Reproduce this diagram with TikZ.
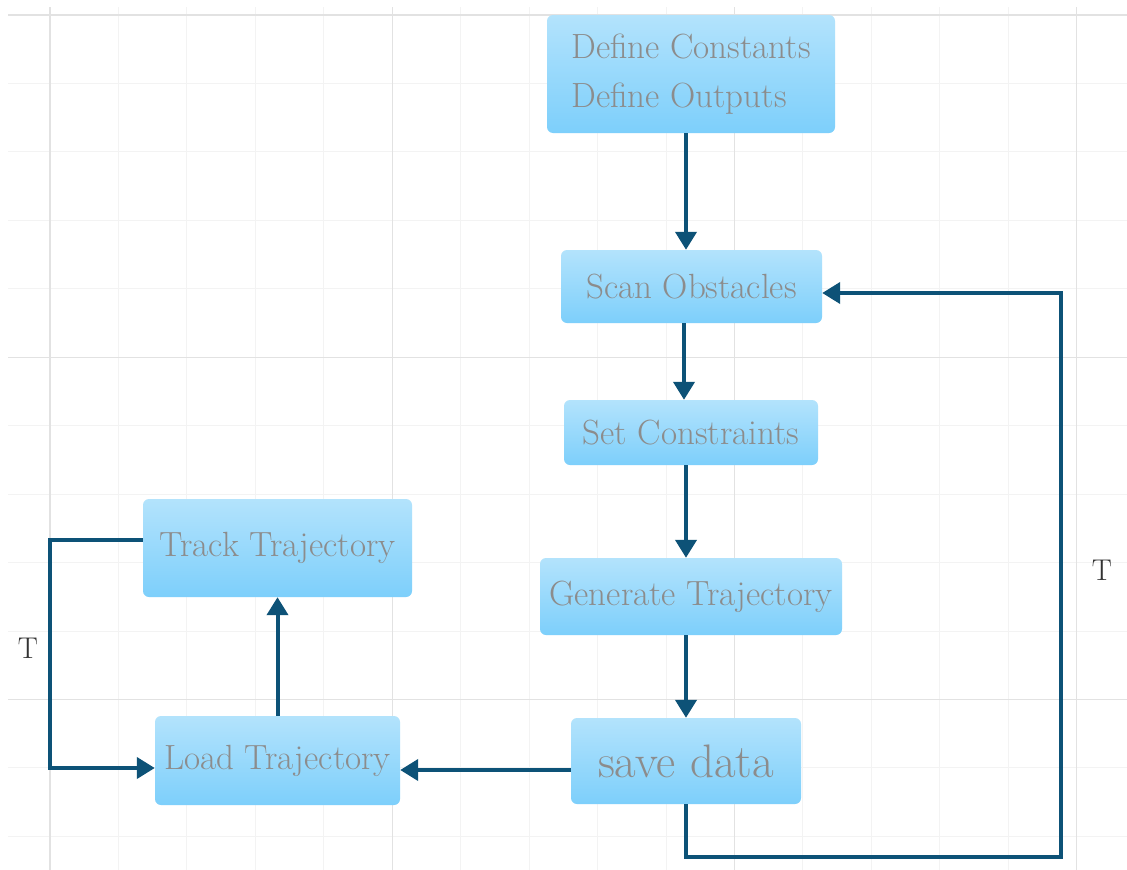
\documentclass[tikz,border=0pt]{standalone}
\usetikzlibrary{arrows.meta,calc}
\definecolor{boxtop}{HTML}{B3E3FC}
\definecolor{boxbot}{HTML}{7DCFFB}
\definecolor{linec}{HTML}{0D5277}
\definecolor{txtc}{HTML}{8C8C8C}
\definecolor{gridmin}{HTML}{F3F3F3}
\definecolor{gridmaj}{HTML}{E2E2E2}
\begin{document}
\begin{tikzpicture}[x=1pt,y=-1pt,
  box/.style={rectangle,rounded corners=6pt,top color=boxtop,bottom color=boxbot,draw=none,
    text=txtc,font=\fontsize{35}{40}\selectfont,inner sep=0pt},
  conn/.style={draw=linec,line width=4pt,-{Triangle[length=18pt,width=21pt]}},
  lbl/.style={text=black!80,font=\fontsize{30}{36}\selectfont}]
\useasboundingbox (0,0) rectangle (1127,870);
\fill[white] (0,0) rectangle (1127,870);
% grid
\foreach \i in {0,...,15}{
  \draw[gridmin,line width=1pt] ({50+68.45*\i},7) -- ({50+68.45*\i},870);}
\foreach \i in {0,...,12}{
  \draw[gridmin,line width=1pt] (8,{15+68.45*\i}) -- (1127,{15+68.45*\i});}
\foreach \i in {0,1,2,3}{
  \draw[gridmaj,line width=1pt] ({50+342.25*\i},7) -- ({50+342.25*\i},870);}
\foreach \i in {0,1,2}{
  \draw[gridmaj,line width=1pt] (8,{15+342.25*\i}) -- (1127,{15+342.25*\i});}
\draw[gridmaj,line width=2pt] (50,7) -- (50,870);
\draw[gridmaj,line width=2pt] (8,15) -- (1127,15);
% nodes
\node[box,minimum width=288pt,minimum height=118pt,align=left,
  font=\fontsize{35}{49}\selectfont] (def) at (691,74)
  {Define Constants\\Define Outputs};
\node[box,minimum width=261pt,minimum height=73pt] (scan) at (691.5,286.5) {Scan Obstacles};
\node[box,minimum width=254pt,minimum height=65pt] (set) at (691,432.5) {Set Constraints};
\node[box,minimum width=302pt,minimum height=77pt] (gen) at (691,596.5) {Generate Trajectory};
\node[box,minimum width=230pt,minimum height=86pt,font=\fontsize{47}{52}\selectfont] (save) at (686,761) {save data};
\node[box,minimum width=269pt,minimum height=98pt] (track) at (277.5,548) {Track Trajectory};
\node[box,minimum width=245pt,minimum height=89pt] (load) at (277.5,760.5) {Load Trajectory};
\coordinate (c1) at (50,540);
\coordinate (c2) at (50,768);
\coordinate (r1) at (1061,857);
\coordinate (r2) at (1061,293);
\coordinate (b1) at (686,857);
\coordinate (xa) at (686,0);
\coordinate (xb) at (684,0);
% connectors
\draw[conn] (xa |- def.south) -- (xa |- scan.north);
\draw[conn] (xb |- scan.south) -- (xb |- set.north);
\draw[conn] (xa |- set.south) -- (xa |- gen.north);
\draw[conn] (xa |- gen.south) -- (save.north);
\draw[conn] (save.west |- 0,770) -- (load.east |- 0,770);
\draw[conn] (load.north) -- (track.south);
\draw[conn] (track.west |- c1) -- (c1) -- (c2) -- (load.west |- c2);
\draw[conn] (save.south) -- (b1) -- (r1) -- (r2) -- (scan.east |- r2);
\node[lbl] (t1) at (28,648) {T};
\node[lbl] (t2) at (1102,570) {T};
\end{tikzpicture}
\end{document}
